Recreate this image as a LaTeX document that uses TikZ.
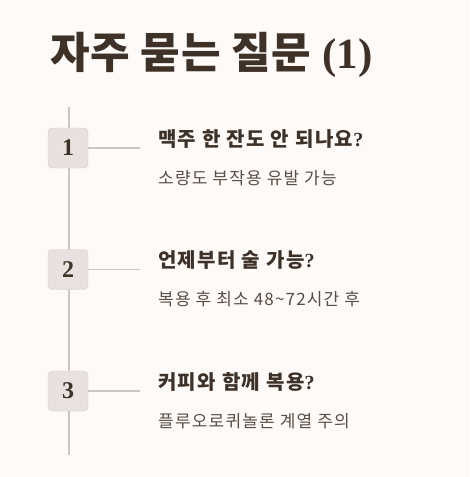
\documentclass[tikz,border=0pt]{standalone}
\usepackage{fontspec}
\setmainfont{Liberation Serif}
\newfontfamily\krfont{Noto Sans CJK KR}[LetterSpace=7]
\newfontfamily\krtitle{Noto Sans CJK KR}[LetterSpace=2]
\definecolor{PageBg}{HTML}{FDFAF8}
\definecolor{DarkText}{HTML}{3D3128}
\definecolor{SoftText}{HTML}{5A4D45}
\definecolor{TrackLine}{HTML}{CDC5C1}
\definecolor{StepFill}{HTML}{E9E1DF}
\definecolor{StepBorder}{HTML}{D8CFCB}
\usetikzlibrary{calc, positioning}
\tikzset{
    stepbox/.style={
        draw=StepBorder, fill=StepFill, rounded corners=4pt,
        minimum size=40pt, inner sep=0pt, text=DarkText,
        font=\bfseries\fontsize{24}{24}\selectfont
    },
    question/.style={
        anchor=base west, inner sep=0pt, text=DarkText,
        font=\krfont\bfseries\fontsize{20}{20}\selectfont
    },
    answer/.style={
        anchor=base west, inner sep=0pt, text=SoftText,
        font=\krfont\fontsize{17}{17}\selectfont
    }
}

\begin{document}
\begin{tikzpicture}[x=1pt, y=-1pt]

\fill[PageBg] (0,0) rectangle (469,477);
\useasboundingbox (0,0) rectangle (469,477);

\node[anchor=base west, inner sep=0pt, text=DarkText,
      font=\bfseries\fontsize{43}{43}\selectfont] (title)
    at (50,68) {{\krtitle 자주 묻는 질문} (1)};

\coordinate (top) at (69,107);
\coordinate (bottom) at (69,455);
\draw[TrackLine, line width=1.2pt] (top) -- (bottom);

\foreach \n/\q/\a [count=\i from 0] in {
    1/맥주 한 잔도 안 되나요/소량도 부작용 유발 가능,
    2/언제부터 술 가능/복용 후 최소 48{\textasciitilde}72시간 후,
    3/커피와 함께 복용/플루오로퀴놀론 계열 주의}
{
    \coordinate (c\n) at (68,148+121.5*\i);
    \node[stepbox] (s\n) at (c\n) {\n};
    \draw[TrackLine, line width=1.2pt] (s\n.east) -- ++(52,0) coordinate (e\n);
    \node[question] (q\n) at ($(c\n)+(90,-2)$) {\q{\rmfamily ?}};
    \node[answer] (a\n) at ($(c\n)+(90,36)$) {\a};
}

\end{tikzpicture}
\end{document}
